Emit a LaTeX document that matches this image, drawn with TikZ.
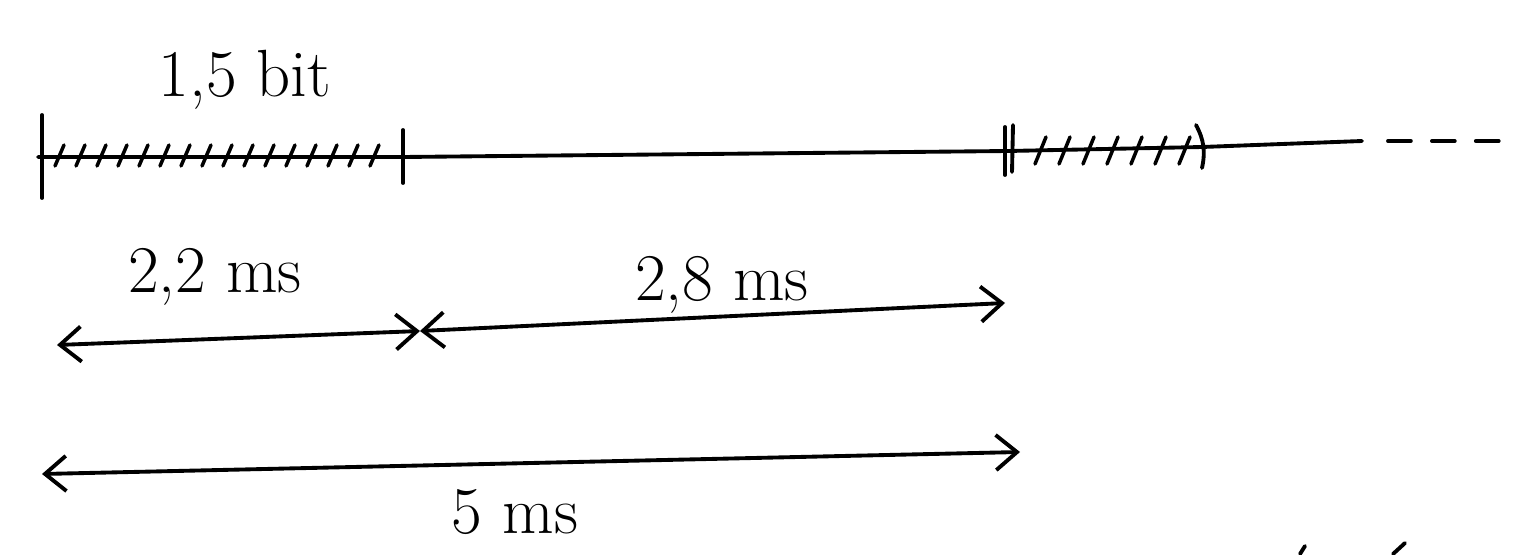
\documentclass[tikz,border=0pt]{standalone}
\usetikzlibrary{arrows.meta,calc}

\begin{document}
\begin{tikzpicture}[x=0.02cm, y=-0.02cm, line width=2.2pt, line cap=round, line join=round,
  dim/.style={{Straight Barb[length=12pt,width=20pt]}-{Straight Barb[length=12pt,width=20pt]}},
  hatch/.style={line width=2pt},
  lbl/.style={font=\fontsize{38}{42}\selectfont, inner sep=0pt}]
  \useasboundingbox (0,0) rectangle (1537,554);
  % time axis
  \coordinate (T0) at (38,157);
  \coordinate (T1) at (403,157);
  \coordinate (T2) at (1008,151);
  \coordinate (T3) at (1202,147);
  \coordinate (T4) at (1362,141);
  \coordinate (T5) at (1388,141);
  \coordinate (T6) at (1505,141);
  \draw (T0)--(T1)--(T2)--(T3)--(T4);
  \draw[dash pattern=on 13pt off 12pt] (T5)--(T6);
  % first frame
  \draw ($(T0)+(4,-42)$)--($(T0)+(4,41)$);
  \draw ($(T1)+(0,-27)$)--($(T1)+(0,26)$);
  \foreach \x in {55,76,...,390}
    \draw[hatch] (\x,166)--(\x+9,145);
  % second frame
  \draw ($(T2)+(-3,-24)$)--($(T2)+(-3,24)$);
  \draw ($(T2)+(5,-26)$)--($(T2)+(4,21)$);
  \foreach \x in {1035,1059,...,1180}
    \draw[hatch] (\x,164)--(\x+11,137);
  \draw (1196,125) to[bend left=20] (1202,168);
  % durations
  \coordinate (A0) at (57,345);
  \coordinate (A1) at (420,331);
  \coordinate (A2) at (1005,303);
  \draw[dim] (A0)--(A1);
  \draw[dim] (A1)--(A2);
  \coordinate (B0) at (42,474);
  \coordinate (B1) at (1020,452);
  \draw[dim] (B0)--(B1);
  % labels
  \node[lbl] (bits) at (245,80) {1,5 bit};
  \node[lbl] (t1) at (215,277) {2,2 ms};
  \node[lbl] (t2) at (722,285) {2,8 ms};
  \node[lbl] (t3) at (515,512) {5 ms};
  % strokes cut off at the edge
  \draw (1300,554)--(1305,546);
  \draw (1393,554)--(1405,543);
\end{tikzpicture}
\end{document}
